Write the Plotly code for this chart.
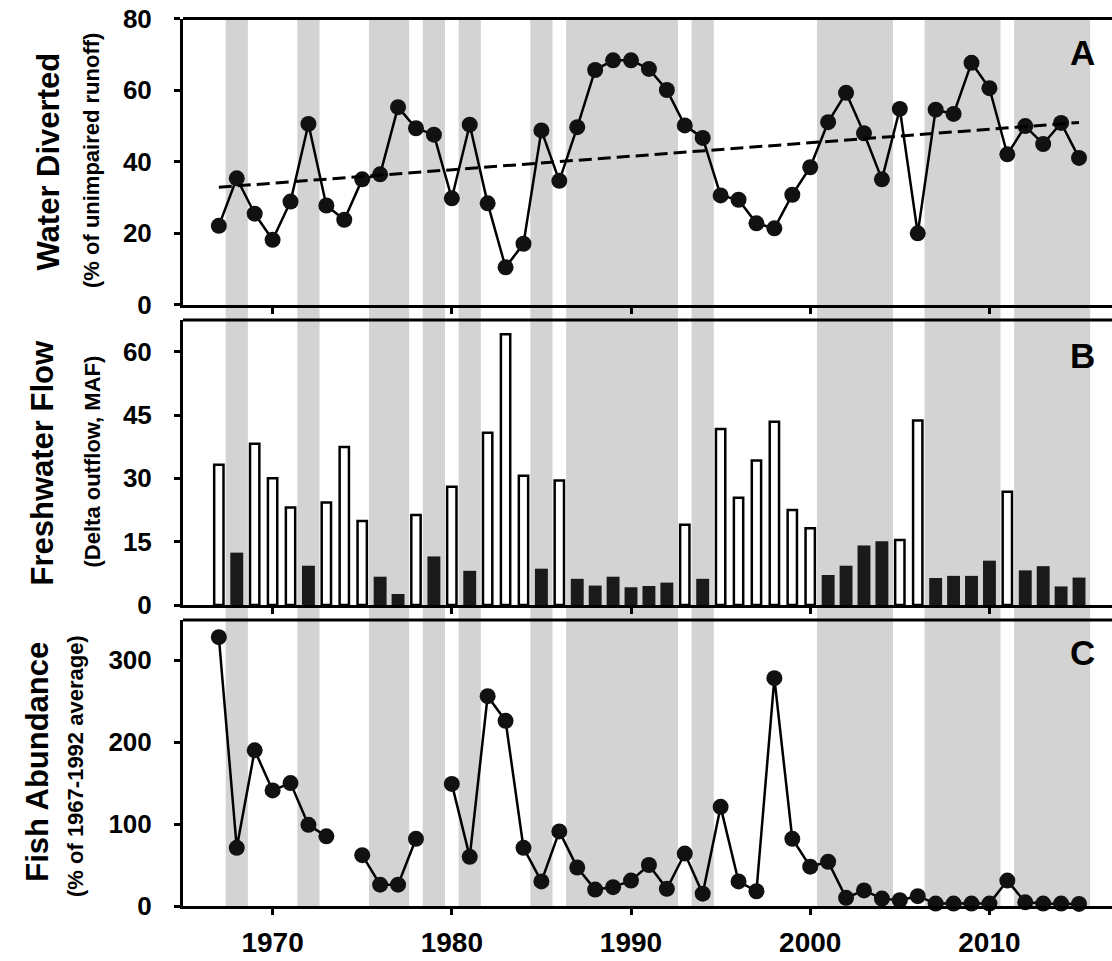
import plotly.graph_objects as go
from plotly.subplots import make_subplots

# ---------------- data ----------------
years = list(range(1967, 2016))

water_diverted = [22.0, 35.3, 25.4, 18.1, 28.8, 50.5, 27.7, 23.7, 35.0, 36.4,
                  55.2, 49.3, 47.5, 29.7, 50.3, 28.3, 10.4, 17.0, 48.7, 34.6,
                  49.6, 65.6, 68.3, 68.3, 65.9, 60.0, 50.1, 46.6, 30.5, 29.3,
                  22.7, 21.3, 30.7, 38.4, 51.0, 59.2, 47.9, 35.0, 54.7, 19.9,
                  54.5, 53.3, 67.6, 60.5, 42.0, 49.9, 44.9, 50.8, 41.0]

trend_years = [1967, 2015]
trend_values = [32.8, 50.9]

delta_outflow = [33.2, 12.4, 38.2, 30.0, 23.1, 9.3, 24.3, 37.4, 19.9, 6.7,
                 2.6, 21.3, 11.5, 28.0, 8.1, 40.8, 64.1, 30.6, 8.6, 29.5,
                 6.2, 4.6, 6.7, 4.2, 4.5, 5.3, 19.0, 6.2, 41.7, 25.4,
                 34.2, 43.4, 22.5, 18.2, 7.1, 9.3, 14.1, 15.1, 15.4, 43.7,
                 6.4, 6.9, 6.9, 10.5, 26.8, 8.2, 9.2, 4.4, 6.5]

fish_abundance = [328, 71, 190, 141, 150, 99, 85, None, 62, 26,
                  26, 82, None, 149, 60, 256, 226, 71, 30, 91,
                  47, 20, 23, 31, 50, 21, 64, 15, 121, 30,
                  18, 278, 82, 48, 54, 10, 19, 9, 7, 12,
                  3, 3, 3, 3, 31, 4.5, 3, 3, 2.5]

# critically dry periods (first year, last year)
dry_periods = [(1968, 1968), (1972, 1972), (1976, 1977), (1979, 1979),
               (1981, 1981), (1985, 1985), (1987, 1992), (1994, 1994),
               (2001, 2004), (2007, 2010), (2012, 2015)]

x_ticks = [1970, 1980, 1990, 2000, 2010]
ticks_a = [0, 20, 40, 60, 80]
ticks_b = [0, 15, 30, 45, 60]
ticks_c = [0, 100, 200, 300]

# ---------------- layout helpers ----------------
W, H = 1112, 961
L = 183
PW = W - L


def px_x(px):
    return (px - L) / PW


def px_y(py):
    return 1 - py / H


def is_dry(y):
    return any(a <= y <= b for a, b in dry_periods)


FONT = "Liberation Sans, Arial, sans-serif"
INK = "#111111"

fig = make_subplots(rows=3, cols=1)

# Panel A
fig.add_trace(go.Scatter(x=years, y=water_diverted, mode="lines+markers",
                         line=dict(color="black", width=2.5),
                         marker=dict(size=16, color=INK),
                         cliponaxis=False, showlegend=False), row=1, col=1)
fig.add_trace(go.Scatter(x=trend_years, y=trend_values, mode="lines",
                         line=dict(color="black", width=3, dash="13px,6px"),
                         showlegend=False), row=1, col=1)

# Panel B
wet_vals = [v if not is_dry(y) else None for y, v in zip(years, delta_outflow)]
dry_vals = [v if is_dry(y) else None for y, v in zip(years, delta_outflow)]
fig.add_trace(go.Bar(x=years, y=wet_vals, width=0.52,
                     marker=dict(color="white", line=dict(color="black", width=2.5)),
                     showlegend=False), row=2, col=1)
fig.add_trace(go.Bar(x=years, y=dry_vals, width=0.72,
                     marker=dict(color="#1a1a1a", line=dict(width=0)),
                     showlegend=False), row=2, col=1)

# Panel C
fig.add_trace(go.Scatter(x=years, y=fish_abundance, mode="lines+markers",
                         line=dict(color="black", width=2.5),
                         marker=dict(size=16, color=INK),
                         connectgaps=False, cliponaxis=False,
                         showlegend=False), row=3, col=1)

# shading for dry periods across all panels
pad = 0.62
for a, b in dry_periods:
    fig.add_shape(type="rect", xref="x", yref="paper",
                  x0=a - pad, x1=b + pad, y0=px_y(906), y1=px_y(19),
                  fillcolor="#d3d3d3", line=dict(width=0), layer="below")

domains = {1: (px_y(304.5), px_y(18.5)), 2: (px_y(605), px_y(320)), 3: (px_y(906), px_y(620))}
ranges = {1: [0, 80], 2: [0, 67.5], 3: [0, 349]}
yticks = {1: ticks_a, 2: ticks_b, 3: ticks_c}

for r in (1, 2, 3):
    fig.update_xaxes(row=r, col=1, domain=[0, 1], range=[1965, 2016.84],
                     automargin=False,
                     showgrid=False, zeroline=False, showline=True,
                     linecolor="black", linewidth=3,
                     ticks="outside", ticklen=6, tickwidth=3, tickcolor="black",
                     tickvals=x_ticks, showticklabels=(r == 3),
                     ticklabelstandoff=3,
                     tickfont=dict(family=FONT, size=28, color="black", weight="bold"))
    fig.update_yaxes(row=r, col=1, domain=list(domains[r]), range=ranges[r],
                     automargin=False,
                     showgrid=False, zeroline=False, showline=True,
                     linecolor="black", linewidth=3,
                     ticks="outside", ticklen=6, tickwidth=2.5, tickcolor="black",
                     tickvals=yticks[r], ticklabelstandoff=17,
                     tickfont=dict(family=FONT, size=26, color="black", weight="bold"))
    yref = "y domain" if r == 1 else f"y{r} domain"
    fig.add_shape(type="line", xref="paper", yref=yref, x0=0, x1=1, y0=1, y1=1,
                  line=dict(color="black", width=3))

# axis titles
titles = [
    ("Water Diverted", 47.5, 162, 31),
    ("(% of unimpaired runoff)", 91, 161, 22),
    ("Freshwater Flow", 42.5, 463, 31),
    ("(Delta outflow, MAF)", 91.5, 462, 22),
    ("Fish Abundance", 36.7, 762, 31),
    ("(% of 1967-1992 average)", 75, 766, 22),
]
for text, cx, cy, size in titles:
    fig.add_annotation(text=text, xref="paper", yref="paper",
                       x=px_x(cx), y=px_y(cy), xanchor="center", yanchor="middle",
                       textangle=-90, showarrow=False,
                       font=dict(family=FONT, size=size, color="black", weight="bold"))

for text, cy in [("A", 53), ("B", 355), ("C", 652)]:
    fig.add_annotation(text=text, xref="paper", yref="paper",
                       x=px_x(1082), y=px_y(cy), xanchor="center", yanchor="middle",
                       showarrow=False,
                       font=dict(family=FONT, size=35, color="black", weight="bold"))

fig.update_layout(width=W, height=H, margin=dict(l=L, r=0, t=0, b=0, autoexpand=False),
                  barmode="overlay", paper_bgcolor="white",
                  plot_bgcolor="rgba(0,0,0,0)", showlegend=False)

fig.write_html("out.html", config={"displayModeBar": False},
               post_script="document.body.style.margin='0';document.body.style.overflow='hidden';")
